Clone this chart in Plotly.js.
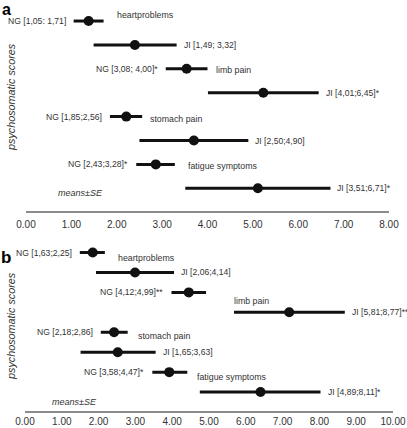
<!DOCTYPE html>
<html>
<head>
<meta charset="utf-8">
<script src="https://cdn.plot.ly/plotly-3.0.1.min.js"></script>
<style>
html,body{margin:0;padding:0;background:#fff;}
#chart{width:407px;height:428px;}
</style>
</head>
<body>
<div id="chart"></div>
<script>
// ---------- data ----------
const symptoms = ['heartproblems', 'limb pain', 'stomach pain', 'fatigue symptoms'];
const groups = ['NG', 'JI'];

// panel a
const meanA = [1.38, 2.40, 3.54, 5.23, 2.21, 3.70, 2.86, 5.11];
const loA   = [1.05, 1.49, 3.08, 4.01, 1.85, 2.50, 2.43, 3.51];
const hiA   = [1.71, 3.32, 4.00, 6.45, 2.56, 4.90, 3.28, 6.71];
const labelA = ['NG [1,05: 1,71]', 'JI [1,49; 3,32]', 'NG [3,08; 4,00]*', 'JI [4,01;6,45]*',
                'NG [1,85;2,56]', 'JI [2,50;4,90]', 'NG [2,43;3,28]*', 'JI [3,51;6,71]*'];

// panel b
const meanB = [1.84, 2.99, 4.45, 7.18, 2.42, 2.52, 3.92, 6.40];
const loB   = [1.49, 1.93, 3.98, 5.68, 2.06, 1.51, 3.46, 4.75];
const hiB   = [2.17, 4.05, 4.92, 8.69, 2.79, 3.55, 4.41, 8.03];
const labelB = ['NG [1,63;2,25]', 'JI [2,06;4,14]', 'NG [4,12;4,99]**', 'JI [5,81;8,77]**',
                'NG [2,18;2,86]', 'JI [1,65;3,63]', 'NG [3,58;4,47]*', 'JI [4,89;8,11]*'];

const ticksA = [0, 1, 2, 3, 4, 5, 6, 7, 8];
const ticksB = [0, 1, 2, 3, 4, 5, 6, 7, 8, 9, 10];
const yTitle = 'psychosomatic scores';
const noteText = 'means\u00b1SE';

// ---------- build ----------
const rowKeys = [];
const rowGroup = [];
symptoms.forEach(s => groups.forEach(g => { rowKeys.push(g + ' ' + s); rowGroup.push(g); }));

const W = 407, H = 428;
const px = v => v / W;
const py = v => 1 - v / H;
const FONT = '"Liberation Sans", Arial, Helvetica, sans-serif';
const INK = '#111';
const TXT = '#333';

function trace(mean, lo, hi, xa, ya) {
  return {
    type: 'scatter', mode: 'markers',
    x: mean, y: rowKeys, xaxis: xa, yaxis: ya,
    marker: {size: 10, color: INK},
    error_x: {
      type: 'data', symmetric: false,
      array: hi.map((h, i) => h - mean[i]),
      arrayminus: lo.map((l, i) => mean[i] - l),
      thickness: 3, width: 0, color: INK
    },
    hoverinfo: 'skip', showlegend: false, cliponaxis: false
  };
}

const annotations = [];
function rowLabels(lo, hi, labels, xr, yr) {
  rowKeys.forEach((k, i) => {
    const ng = rowGroup[i] === 'NG';
    annotations.push({
      xref: xr, yref: yr, x: ng ? lo[i] : hi[i], y: k,
      text: labels[i], showarrow: false,
      xanchor: ng ? 'right' : 'left', yanchor: 'middle',
      xshift: ng ? -6 : 5,
      font: {family: FONT, size: 8.6, color: TXT}
    });
  });
}
rowLabels(loA, hiA, labelA, 'x', 'y');
rowLabels(loB, hiB, labelB, 'x2', 'y2');

// symptom labels (paper pixel positions)
const symPosA = [[115, 15], [214, 70], [148, 119], [186, 166]];
const symPosB = [[116, 258], [232, 301], [136, 336], [195, 377]];
[symPosA, symPosB].forEach(pos => {
  symptoms.forEach((s, i) => annotations.push({
    xref: 'paper', yref: 'paper', x: px(pos[i][0]), y: py(pos[i][1]),
    text: s, showarrow: false, xanchor: 'left', yanchor: 'middle',
    font: {family: FONT, size: 8.8, color: TXT}
  }));
});

// means±SE notes
[[80, 193], [74, 402]].forEach(p => annotations.push({
  xref: 'paper', yref: 'paper', x: px(p[0]), y: py(p[1]),
  text: '<i>' + noteText + '</i>', showarrow: false, xanchor: 'center', yanchor: 'middle',
  font: {family: FONT, size: 9, color: TXT}
}));

// y titles
[[11, 97], [11, 326]].forEach(p => annotations.push({
  xref: 'paper', yref: 'paper', x: px(p[0]), y: py(p[1]),
  text: '<i>' + yTitle + '</i>', showarrow: false, textangle: -90,
  xanchor: 'center', yanchor: 'middle',
  font: {family: FONT, size: 10.8, color: TXT}
}));

// panel letters
annotations.push({
  xref: 'paper', yref: 'paper', x: px(1), y: 1,
  text: '<b>a</b>', showarrow: false, xanchor: 'left', yanchor: 'top', borderpad: 0,
  font: {family: FONT, size: 16, color: '#000'}
});
annotations.push({
  xref: 'paper', yref: 'paper', x: px(6), y: py(257),
  text: '<b>b</b>', showarrow: false, xanchor: 'center', yanchor: 'middle',
  font: {family: FONT, size: 17, color: '#000'}
});

function xAxis(domain, range, ticks, anchor, standoff) {
  return {
    domain: domain, range: range, anchor: anchor,
    showline: true, linecolor: '#8c8c8c', linewidth: 1.5,
    ticks: '', tickmode: 'array', tickvals: ticks, ticktext: ticks.map(t => t.toFixed(2)),
    ticklabelstandoff: standoff,
    tickfont: {family: FONT, size: 10, color: TXT},
    showgrid: false, zeroline: false, fixedrange: true
  };
}
function yAxis(domain, range, anchor) {
  return {
    domain: domain, range: range, anchor: anchor,
    type: 'category', categoryorder: 'array', categoryarray: rowKeys,
    visible: false, showgrid: false, zeroline: false, fixedrange: true
  };
}

const layout = {
  width: W, height: H,
  margin: {l: 0, r: 0, t: 0, b: 0},
  paper_bgcolor: '#fff', plot_bgcolor: '#fff',
  font: {family: FONT},
  xaxis: xAxis([px(26), px(389)], [0, 8], ticksA, 'y', 3),
  yaxis: yAxis([py(211), 1], [7.95, -0.88], 'x'),
  xaxis2: xAxis([px(25), px(393)], [0, 10], ticksB, 'y2', 0),
  yaxis2: yAxis([py(411), py(232)], [7.95, -1.03], 'x2'),
  annotations: annotations,
  showlegend: false
};

Plotly.newPlot('chart', [
  trace(meanA, loA, hiA, 'x', 'y'),
  trace(meanB, loB, hiB, 'x2', 'y2')
], layout, {displayModeBar: false, staticPlot: true});
</script>
</body>
</html>
